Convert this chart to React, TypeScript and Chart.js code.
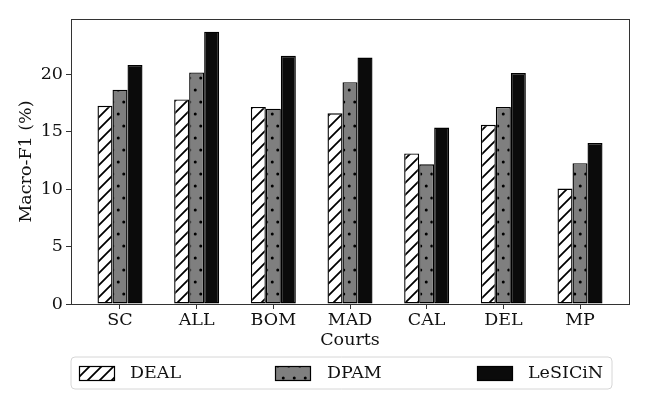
import React, { useEffect, useRef } from "react";
import { Chart, registerables } from "chart.js";

Chart.register(...registerables);

const categories = ["SC", "ALL", "BOM", "MAD", "CAL", "DEL", "MP"];
const dealValues = [17.25, 17.8, 17.15, 16.6, 13.1, 15.6, 10.05];
const dpamValues = [18.65, 20.15, 17.0, 19.3, 12.15, 17.15, 12.25];
const lesicinValues = [20.8, 23.7, 21.6, 21.45, 15.35, 20.1, 14.0];
const seriesNames = ["DEAL", "DPAM", "LeSICiN"];
const yTicks = [0, 5, 10, 15, 20];

const FONT = "'DejaVu Serif', serif";

function makeHatch(): CanvasPattern | string {
  const c = document.createElement("canvas");
  c.width = 12;
  c.height = 12;
  const g = c.getContext("2d");
  if (!g) return "#fff";
  g.fillStyle = "#ffffff";
  g.fillRect(0, 0, 12, 12);
  g.strokeStyle = "#000";
  g.lineWidth = 1.8;
  g.beginPath();
  g.moveTo(-3, 15);
  g.lineTo(15, -3);
  g.moveTo(-9, 9);
  g.lineTo(9, -9);
  g.moveTo(3, 21);
  g.lineTo(21, 3);
  g.stroke();
  const p = g.createPattern(c, "repeat");
  return p || "#fff";
}

function makeDots(): CanvasPattern | string {
  const c = document.createElement("canvas");
  c.width = 11;
  c.height = 24;
  const g = c.getContext("2d");
  if (!g) return "#808080";
  g.fillStyle = "#7f7f7f";
  g.fillRect(0, 0, 11, 24);
  g.fillStyle = "#000";
  g.beginPath();
  g.arc(2.75, 6, 1.5, 0, Math.PI * 2);
  g.fill();
  g.beginPath();
  g.arc(8.25, 18, 1.5, 0, Math.PI * 2);
  g.fill();
  const p = g.createPattern(c, "repeat");
  return p || "#808080";
}

export default function App() {
  const ref = useRef<HTMLCanvasElement | null>(null);

  useEffect(() => {
    document.body.style.margin = "0";
    const canvas = ref.current;
    if (!canvas) return;
    const hatch = makeHatch();
    const dots = makeDots();
    const fills = [hatch, dots, "#0b0b0b"];
    const valueSets = [dealValues, dpamValues, lesicinValues];

    const framePlugin = {
      id: "frame",
      afterDraw(chart: any) {
        const { ctx, chartArea } = chart;
        ctx.save();
        ctx.strokeStyle = "#333";
        ctx.lineWidth = 1;
        ctx.strokeRect(
          Math.round(chartArea.left) + 0.5,
          Math.round(chartArea.top) + 0.5,
          Math.round(chartArea.right - chartArea.left),
          Math.round(chartArea.bottom - chartArea.top)
        );
        // legend
        const bx = 71, by = 357, bw = 541, bh = 32, r = 4;
        ctx.beginPath();
        ctx.moveTo(bx + r, by);
        ctx.lineTo(bx + bw - r, by);
        ctx.quadraticCurveTo(bx + bw, by, bx + bw, by + r);
        ctx.lineTo(bx + bw, by + bh - r);
        ctx.quadraticCurveTo(bx + bw, by + bh, bx + bw - r, by + bh);
        ctx.lineTo(bx + r, by + bh);
        ctx.quadraticCurveTo(bx, by + bh, bx, by + bh - r);
        ctx.lineTo(bx, by + r);
        ctx.quadraticCurveTo(bx, by, bx + r, by);
        ctx.closePath();
        ctx.fillStyle = "#fff";
        ctx.fill();
        ctx.strokeStyle = "#d6d6d6";
        ctx.lineWidth = 1;
        ctx.stroke();
        const swatchX = [79, 275, 477];
        const textX = [130, 327, 528];
        for (let i = 0; i < 3; i++) {
          ctx.fillStyle = fills[i] as any;
          ctx.fillRect(swatchX[i], 366, 35, 14);
          ctx.strokeStyle = "#000";
          ctx.lineWidth = 1.2;
          ctx.strokeRect(swatchX[i] + 0.5, 366.5, 35, 14);
          ctx.fillStyle = "#111";
          ctx.font = `17.5px ${FONT}`;
          ctx.textBaseline = "middle";
          ctx.textAlign = "left";
          ctx.fillText(seriesNames[i], textX[i], 373);
        }
        ctx.restore();
      },
    };

    const chart = new Chart(canvas, {
      type: "bar",
      data: {
        datasets: valueSets.map((vals, si) => ({
          label: seriesNames[si],
          data: vals.map((v, i) => ({ x: i, y: v })),
          backgroundColor: fills[si] as any,
          borderColor: "#000",
          borderWidth: 1.4,
          borderSkipped: false,
          categoryPercentage: 0.587,
          barPercentage: 1.0,
        })),
      },
      options: {
        animation: false,
        responsive: false,
        maintainAspectRatio: false,
        layout: { padding: { left: 0, right: 19, top: 19, bottom: 63 } },
        plugins: { legend: { display: false }, tooltip: { enabled: false } },
        scales: {
          x: {
            type: "linear",
            min: -0.639,
            max: 6.639,
            offset: false,
            afterFit(scale: any) {
              scale.height = 50;
            },
            afterBuildTicks(scale: any) {
              scale.ticks = categories.map((_, i) => ({ value: i }));
            },
            ticks: {
              callback: (v: any) => categories[v as number] ?? "",
              font: { family: FONT, size: 17.5 },
              color: "#111",
              padding: 1,
              maxRotation: 0,
              autoSkip: false,
            },
            grid: {
              offset: false,
              drawOnChartArea: false,
              drawTicks: true,
              tickLength: 5,
              color: "#333",
            },
            border: { display: true, color: "#333" },
            title: {
              display: true,
              text: "Courts",
              font: { family: FONT, size: 17.5 },
              color: "#111",
              padding: { top: 0, bottom: 3 },
            },
          },
          y: {
            min: 0,
            max: 24.8,
            afterFit(scale: any) {
              scale.width = 71;
            },
            afterBuildTicks(scale: any) {
              scale.ticks = yTicks.map((v) => ({ value: v }));
            },
            ticks: {
              font: { family: FONT, size: 17.5 },
              color: "#111",
              padding: 3,
            },
            grid: {
              drawOnChartArea: false,
              drawTicks: true,
              tickLength: 5,
              color: "#333",
            },
            border: { display: true, color: "#333" },
            title: {
              display: true,
              text: "Macro-F1 (%)",
              font: { family: FONT, size: 17.5 },
              color: "#111",
              padding: { top: 16, bottom: 0 },
            },
          },
        },
      },
      plugins: [framePlugin],
    });
    return () => chart.destroy();
  }, []);

  return (
    <div style={{ width: 648, height: 417 }}>
      <canvas ref={ref} width={648} height={417} style={{ width: 648, height: 417, display: "block" }} />
    </div>
  );
}
